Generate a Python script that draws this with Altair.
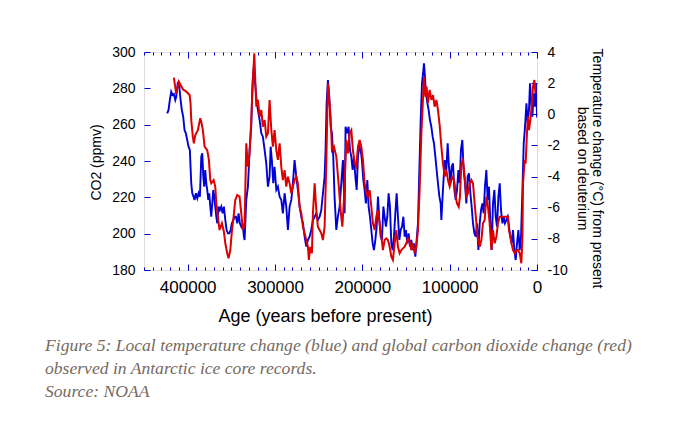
import altair as alt
import pandas as pd

# ---- data ----
co2_age = [
    415800, 413100, 410100, 405500, 401600, 397800, 396700, 395900, 394100, 392900,
    391300, 388300, 385600, 384400, 382600, 380600, 377600, 375700, 374100, 373000,
    370300, 368400, 367200, 365400, 363500, 360800, 358500, 356900, 354700, 353200,
    351200, 349400, 347400, 345500, 343200, 340600, 338600, 336800, 334800, 332900,
    331000, 329100, 327200, 325300, 323700, 322600, 321400, 319600, 317600, 315700,
    313900, 311900, 310000, 308100, 306200, 304200, 302400, 300500, 298500, 296700,
    294700, 292800, 291000, 289000, 287100, 285200, 283300, 281300, 279500, 277600,
    275600, 273800, 271800, 269900, 268000, 266100, 264200, 262300, 261200, 259600,
    257700, 256600, 254600, 252700, 250900, 248900, 247000, 245100, 243200, 241200,
    239400, 236300, 234800, 232500, 229800, 227200, 224900, 222900, 221100, 220300,
    218300, 216500, 214600, 212600, 210800, 208800, 206900, 205000, 203100, 201200,
    199300, 197400, 195400, 193600, 191600, 189700, 187900, 185900, 184000, 182100,
    180200, 178200, 176400, 174500, 172500, 170700, 168700, 166800, 165000, 163000,
    161100, 159200, 157300, 155300, 153500, 151500, 149600, 147800, 145800, 143900,
    142000, 140100, 138100, 136300, 134400, 132400, 130600, 129400, 127800, 126400,
    124900, 122900, 121000, 119100, 117200, 115200, 113400, 111500, 109500, 107700,
    105700, 103800, 102000, 100000, 98100, 96200, 94300, 93100, 91600, 89700,
    88200, 86600, 84800, 82800, 80900, 79000, 77100, 75100, 73300, 71400,
    69400, 67600, 65600, 63700, 61900, 59900, 58000, 56100, 54200, 52200,
    50400, 48500, 46500, 44700, 42700, 35100, 33200, 32100, 30500, 29300,
    27500, 25500, 23600, 21800, 19800, 17900, 16700, 16000, 14100, 13000,
    11500, 10300, 9200, 7600, 6100, 4600, 3000, 1800,
]
co2_ppmv = [
    285.9, 277.0, 283.7, 279.5, 278.2, 276.3, 271.8, 262.6, 253.4, 249.7,
    254.3, 257.0, 263.5, 261.6, 257.0, 247.9, 246.0, 240.6, 229.5, 227.7,
    229.5, 225.9, 216.7, 209.3, 202.0, 205.7, 201.1, 194.7, 189.2, 186.4,
    191.0, 201.1, 209.3, 218.5, 221.3, 220.4, 211.2, 202.0, 205.0, 249.7,
    236.9, 244.2, 262.6, 284.6, 299.3, 284.6, 269.9, 273.6, 264.4, 268.1,
    258.9, 262.6, 253.4, 255.3, 273.6, 257.0, 247.9, 257.0, 246.0, 240.6,
    249.7, 236.9, 229.5, 235.0, 225.9, 231.4, 227.7, 222.2, 225.9, 229.5,
    231.4, 227.7, 214.8, 211.2, 203.8, 200.2, 196.5, 192.8, 185.5, 192.8,
    189.2, 211.2, 227.7, 213.0, 203.8, 202.0, 200.2, 196.5, 203.8, 240.0,
    282.8, 264.4, 246.0, 247.9, 242.4, 227.7, 213.0, 203.8, 218.5, 227.7,
    251.6, 244.2, 255.3, 257.0, 246.0, 238.7, 236.9, 247.9, 251.6, 247.9,
    240.6, 227.7, 222.2, 220.4, 224.0, 214.8, 205.7, 202.0, 209.3, 213.0,
    205.7, 198.3, 191.0, 196.5, 197.4, 196.5, 192.8, 187.3, 185.5, 194.7,
    202.0, 192.8, 189.2, 191.0, 191.9, 192.8, 194.7, 197.4, 195.6, 191.0,
    194.7, 189.2, 192.8, 202.0, 224.0, 255.3, 273.6, 286.4, 275.4, 280.9,
    271.8, 279.1, 273.6, 276.3, 269.9, 273.6, 268.1, 259.9, 247.9, 238.7,
    231.4, 235.0, 229.5, 225.9, 229.5, 231.4, 227.7, 220.4, 216.7, 214.8,
    220.4, 238.7, 240.6, 231.4, 220.4, 222.2, 227.7, 229.5, 227.7, 216.7,
    205.7, 196.5, 192.8, 196.5, 205.7, 207.5, 220.4, 214.8, 205.7, 191.0,
    202.0, 194.7, 198.3, 205.7, 209.3, 209.3, 209.3, 202.0, 198.3, 194.7,
    191.0, 189.2, 191.0, 191.0, 189.2, 183.7, 198.3, 227.7, 240.6, 238.7,
    255.3, 264.4, 257.0, 262.6, 269.9, 280.9, 284.6, 277.3,
]
temp_age = [
    423400, 421900, 420400, 418800, 417300, 415800, 414200, 413100, 411200, 409600,
    408100, 406700, 405100, 403600, 402100, 400500, 399000, 397500, 396700, 395900,
    394700, 393300, 392100, 390600, 389000, 387500, 386000, 384400, 383300, 382100,
    381000, 379900, 378700, 377600, 376400, 375300, 374100, 373000, 371800, 370700,
    369500, 368400, 367200, 366100, 364600, 363100, 361500, 360000, 358500, 356900,
    355400, 353900, 352300, 350800, 349400, 347800, 346300, 344800, 343200, 341700,
    340200, 338600, 337100, 335600, 334800, 332900, 331000, 329100, 327200, 326000,
    325300, 324200, 323100, 321100, 319600, 317600, 315700, 313900, 311900, 310000,
    308100, 306200, 305000, 303600, 302000, 300500, 298500, 296700, 294700, 292800,
    291000, 289000, 287100, 285200, 283300, 281300, 279500, 277600, 275600, 273800,
    271800, 269900, 268000, 266100, 264200, 262300, 260400, 258500, 256600, 254600,
    252700, 250900, 248900, 247000, 245100, 243200, 242100, 240900, 239400, 237800,
    236300, 234800, 233300, 231800, 229800, 228000, 226000, 224100, 222200, 220300,
    219200, 217200, 215700, 214200, 212600, 211100, 209600, 208000, 206500, 205000,
    203400, 201900, 200500, 198900, 197400, 195900, 194300, 192800, 191300, 189700,
    188200, 186700, 185100, 183600, 182100, 180500, 179000, 177600, 175900, 174500,
    173000, 171400, 169900, 168400, 166800, 165300, 163800, 162200, 160700, 159200,
    157600, 156100, 154600, 153000, 151500, 150100, 148500, 147000, 145500, 143900,
    142400, 140900, 139300, 137800, 136300, 134700, 133200, 131700, 130100, 129400,
    128300, 127200, 125500, 124100, 122600, 121000, 119500, 118000, 116400, 114900,
    113400, 111800, 110300, 109500, 107700, 105700, 103800, 102300, 100800, 99200,
    97700, 96200, 94600, 93100, 91600, 90000, 88500, 87100, 85500, 84000,
    82500, 80900, 79400, 77900, 76300, 74800, 73300, 71700, 70200, 68700,
    67100, 65600, 64100, 62500, 61100, 59600, 58000, 56500, 55000, 53400,
    51900, 50400, 48800, 47300, 45800, 44200, 42700, 41200, 39600, 38100,
    36700, 35100, 33600, 32100, 30500, 29000, 27500, 25900, 24400, 22900,
    21300, 19800, 18300, 16700, 15200, 13700, 12100, 10700, 9200, 8000,
    6900, 5300, 3800, 2300, 700, 0,
]
temp_change = [
    0.06, 0.28, 0.92, 1.45, 1.24, 1.3, 0.92, 1.13, 2.09, 1.77,
    0.92, 0.28, -0.16, -1.01, -1.22, -1.65, -2.08, -2.29, -3.37, -4.43,
    -5.07, -5.29, -5.5, -5.07, -5.4, -5.07, -5.29, -2.72, -2.5, -4.0,
    -4.65, -3.58, -4.43, -4.86, -5.5, -5.07, -5.93, -6.58, -5.72, -4.86,
    -5.29, -5.93, -6.58, -7.0, -5.93, -6.15, -5.93, -6.36, -5.93, -6.79,
    -7.43, -7.64, -7.64, -7.43, -7.0, -6.79, -6.58, -6.58, -7.0, -6.36,
    -7.0, -7.22, -7.0, -7.86, -8.07, -5.5, -4.65, -2.29, -0.8, 1.56,
    2.41, 3.06, 2.2, 0.92, 0.28, -0.37, -1.22, -1.44, -2.29, -3.15,
    -4.65, -4.0, -2.08, -2.94, -4.43, -3.37, -4.86, -4.65, -5.29, -5.5,
    -6.36, -5.07, -5.93, -7.43, -5.93, -5.5, -4.43, -2.94, -4.0, -4.86,
    -5.93, -6.58, -7.0, -7.86, -8.5, -8.07, -7.86, -7.43, -6.79, -6.58,
    -6.36, -6.79, -6.58, -6.15, -5.07, -4.0, -2.29, 0.71, 2.2, 1.13,
    -0.8, -1.22, -2.72, -5.29, -7.43, -6.58, -5.93, -4.43, -2.94, -6.36,
    -0.8, -1.22, -0.8, -2.29, -2.72, -3.58, -2.72, -4.0, -4.86, -2.72,
    -2.08, -2.29, -2.94, -4.22, -4.86, -5.72, -4.22, -5.93, -6.58, -7.43,
    -8.29, -8.72, -8.07, -7.22, -5.29, -6.79, -7.86, -8.07, -5.93, -6.58,
    -7.22, -6.58, -5.07, -5.93, -8.29, -8.72, -7.86, -6.36, -5.07, -6.58,
    -8.07, -7.43, -7.22, -6.58, -7.86, -7.43, -8.29, -7.64, -8.5, -8.07,
    -8.72, -8.29, -9.15, -8.07, -7.0, -3.58, -0.37, 1.99, 2.84, 3.27,
    2.41, 1.35, 0.71, 0.28, -0.37, -0.8, -1.44, -1.86, -2.72, -3.58,
    -4.43, -5.29, -5.72, -6.79, -4.86, -2.94, -3.58, -1.86, -3.37, -4.43,
    -3.37, -3.15, -4.86, -5.5, -4.86, -3.58, -4.43, -2.29, -1.65, -3.58,
    -4.43, -5.72, -4.0, -3.79, -5.07, -5.93, -7.0, -7.64, -7.86, -7.0,
    -8.72, -7.0, -6.15, -5.72, -6.36, -4.65, -3.58, -5.5, -4.65, -7.0,
    -8.72, -5.72, -4.86, -6.58, -7.22, -5.29, -4.43, -6.15, -7.0, -6.58,
    -7.0, -6.79, -6.58, -7.22, -7.86, -8.29, -7.43, -8.72, -9.36, -8.29,
    -7.43, -8.72, -7.86, -4.86, -1.86, -0.8, 0.71, -0.59, 0.28, 1.99,
    0.92, -0.16, 1.35, 0.49, 1.99, -0.2,
]

x_major = [0, 100000, 200000, 300000, 400000]
x_minor = [10000 * i for i in range(46)]
co2_ticks = [180, 200, 220, 240, 260, 280, 300]
temp_ticks = [-10, -8, -6, -4, -2, 0, 2, 4]

caption = [
    "Figure 5: Local temperature change (blue) and global carbon dioxide change (red)",
    "observed in Antarctic ice core records.",
    "Source: NOAA",
]

co2_df = pd.DataFrame({"age": co2_age, "co2": co2_ppmv})
temp_df = pd.DataFrame({"age": temp_age, "temp": temp_change})

# ---- styling ----
W, H = 393, 218
FRAME = "#0000cc"
BLUE = "#0000d8"
RED = "#dd0000"
SANS = "Liberation Sans"

x_scale = alt.Scale(domain=[0, 450000], reverse=True, nice=False, zero=False)
co2_scale = alt.Scale(domain=[180, 300], nice=False, zero=False)
temp_scale = alt.Scale(domain=[-10, 4], nice=False, zero=False)


def tick_axis(orient, offset, values, size):
    return alt.Axis(orient=orient, offset=offset, values=values, ticks=True,
                    tickSize=size, tickColor=FRAME, tickWidth=1, labels=False,
                    domain=False, grid=False, title=None)


x_label_axis = alt.Axis(
    orient="bottom", values=x_major, format="d", ticks=False, tickSize=0,
    domain=False, grid=False, labelFont=SANS, labelFontSize=17,
    labelColor="black", labelPadding=22, labelBaseline="alphabetic",
    labelFlush=False, labelOverlap=False,
    title="Age (years before present)", titleFont=SANS, titleFontSize=18,
    titleFontWeight="normal", titleColor="black", titleX=181, titleY=51,
    titleBaseline="alphabetic", titleAlign="center")

temp_label_axis = alt.Axis(
    orient="right", values=temp_ticks, ticks=False, tickSize=0, domain=False,
    grid=False, labelExpr="'' + datum.value", labelFont=SANS, labelFontSize=14,
    labelColor="black", labelPadding=10, labelAlign="left",
    labelBaseline="middle", labelFlush=False, labelOverlap=False,
    title=["Temperature change (\u00b0C) from present", "based on deuterium"],
    titleFont=SANS, titleFontSize=14, titleFontWeight="normal",
    titleColor="black", titleAngle=90, titleX=59, titleY=116,
    titleBaseline="middle", titleAlign="center", titleLineHeight=15)

co2_label_axis = alt.Axis(
    orient="left", values=co2_ticks, ticks=False, tickSize=0, domain=False,
    grid=False, labelFont=SANS, labelFontSize=14, labelColor="black",
    labelPadding=9, labelAlign="right", labelBaseline="middle",
    labelFlush=False, labelOverlap=False,
    title="CO2 (ppmv)", titleFont=SANS, titleFontSize=14,
    titleFontWeight="normal", titleColor="black", titleAngle=270,
    titleX=-48, titleY=110, titleBaseline="middle", titleAlign="center")

blue_line = alt.Chart(temp_df).mark_line(color=BLUE, strokeWidth=1.9, clip=True).encode(
    x=alt.X("age:Q", scale=x_scale, axis=x_label_axis),
    y=alt.Y("temp:Q", scale=temp_scale, axis=temp_label_axis),
    order="age:Q",
)

red_line = alt.Chart(co2_df).mark_line(color=RED, strokeWidth=2, clip=True).encode(
    x=alt.X("age:Q", scale=x_scale, axis=tick_axis("top", -H, x_major, 6)),
    y=alt.Y("co2:Q", scale=co2_scale, axis=co2_label_axis),
    order="age:Q",
)

ticks_c = alt.Chart(co2_df).mark_point(opacity=0, size=1).encode(
    x=alt.X("age:Q", scale=x_scale, axis=tick_axis("top", -H, x_minor, 3)),
    y=alt.Y("co2:Q", scale=co2_scale, axis=tick_axis("right", -W, co2_ticks, 6)),
)

ticks_d = alt.Chart(temp_df).mark_point(opacity=0, size=1).encode(
    x=alt.X("age:Q", scale=x_scale, axis=tick_axis("bottom", -H, x_major, 6)),
    y=alt.Y("temp:Q", scale=temp_scale, axis=tick_axis("left", -W, temp_ticks, 6)),
)

ticks_e = alt.Chart(temp_df).mark_point(opacity=0, size=1).encode(
    x=alt.X("age:Q", scale=x_scale, axis=tick_axis("bottom", -H, x_minor, 3)),
    y=alt.Y("temp:Q", scale=temp_scale, axis=None),
)

chart = (
    alt.layer(blue_line, red_line, ticks_c, ticks_d, ticks_e)
    .resolve_scale(y="independent")
    .resolve_axis(x="independent", y="independent")
    .properties(
        width=W, height=H,
        padding={"left": 136, "top": 44, "right": 138, "bottom": 148},
        autosize=alt.AutoSizeParams(type="none"),
        title=alt.TitleParams(
            text=caption, orient="bottom", anchor="start", frame="group",
            dx=-99, offset=26, baseline="alphabetic", align="left",
            font="Liberation Serif", fontStyle="italic", fontWeight="normal",
            fontSize=17.6, color="#766a61", lineHeight=23),
    )
    .configure_view(stroke=FRAME, strokeWidth=1)
    .configure(background="white")
)

chart.save("out.html", embed_options={"renderer": "svg", "actions": False})
